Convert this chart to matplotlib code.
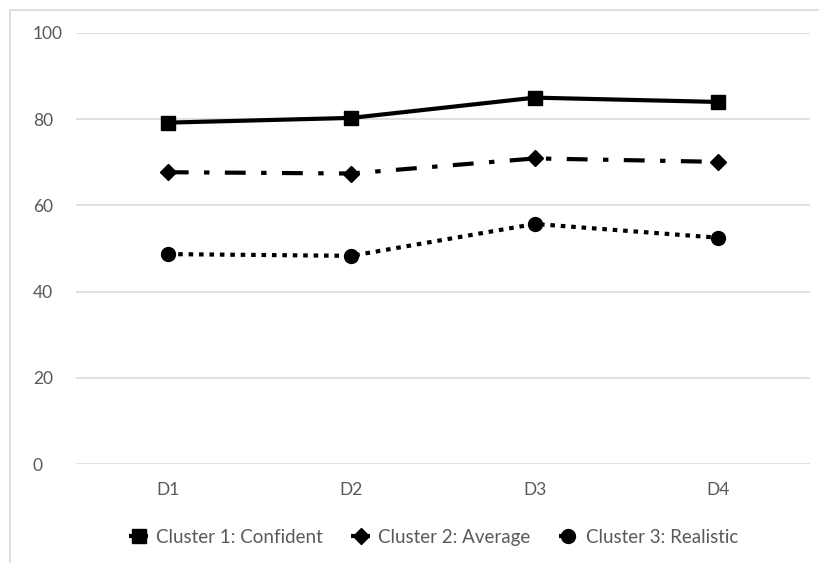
import matplotlib.pyplot as plt

# survey scores per dimension for the three clusters
categories = ['D1', 'D2', 'D3', 'D4']
confident = [79.2, 80.3, 85.0, 84.0]
average = [67.7, 67.4, 70.9, 70.1]
realistic = [48.7, 48.3, 55.7, 52.5]
series_names = ['Cluster 1: Confident', 'Cluster 2: Average', 'Cluster 3: Realistic']
y_ticks = [0, 20, 40, 60, 80, 100]

plt.rcParams['font.family'] = ['Lato', 'DejaVu Sans']
text_grey = '#595959'
grid_grey = '#d9d9d9'

fig = plt.figure(figsize=(8.2, 5.63), dpi=100)
ax = fig.add_axes([0.0927, 0.1758, 0.8953, 0.7656])

x = range(len(categories))
ax.plot(x, confident, color='black', lw=3, marker='s', ms=10,
        solid_capstyle='butt', label=series_names[0])
ax.plot(x, average, color='black', lw=3, marker='D', ms=8.5,
        dashes=(5, 3.7, 1.3, 3.7), dash_capstyle='butt', label=series_names[1])
ax.plot(x, realistic, color='black', lw=3, marker='o', ms=10,
        dashes=(1.1, 1.4), dash_capstyle='butt', label=series_names[2])

ax.set_xlim(-0.5, len(categories) - 0.5)
ax.set_ylim(0, 100)
ax.set_xticks(list(x))
ax.set_xticklabels(categories)
ax.set_yticks(y_ticks)
ax.set_yticklabels([str(v) for v in y_ticks], ha='left')

ax.grid(axis='y', color=grid_grey, lw=1.1)
ax.set_axisbelow(True)
for side in ['top', 'right', 'left', 'bottom']:
    ax.spines[side].set_visible(False)
ax.tick_params(axis='both', length=0, labelsize=12.5, labelcolor=text_grey)
ax.tick_params(axis='y', pad=31)
ax.tick_params(axis='x', pad=13)

leg = fig.legend(loc='center', bbox_to_anchor=(0.529, 0.046), ncol=3,
                 frameon=False, fontsize=13.5, handlelength=1.0,
                 handletextpad=0.45, columnspacing=1.5)
for t in leg.get_texts():
    t.set_color(text_grey)

# light chart-area border
border = plt.Rectangle((10 / 820, -0.01), 1.0, 1 - 10 / 563 + 0.01,
                       transform=fig.transFigure, fill=False,
                       edgecolor=grid_grey, lw=1.2)
fig.add_artist(border)

fig.savefig('out.png', dpi=100)
